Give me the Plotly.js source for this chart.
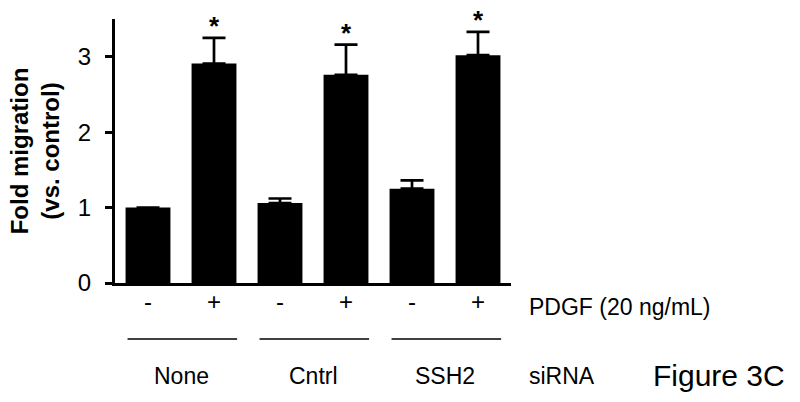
<!DOCTYPE html>
<html>
<head>
<meta charset="utf-8">
<script src="https://cdn.plot.ly/plotly-3.0.1.min.js"></script>
<style>html,body{margin:0;padding:0;background:#fff;}#chart{width:800px;height:402px;}</style>
</head>
<body>
<div id="chart"></div>
<script>
// Data
const pdgfLabels = ["-", "+", "-", "+", "-", "+"];
const foldMigration = [1.00, 2.91, 1.06, 2.76, 1.25, 3.02];
const errorUp = [0.00, 0.34, 0.06, 0.40, 0.11, 0.31];
const significant = [false, true, false, true, false, true];
const sirnaGroups = ["None", "Cntrl", "SSH2"];
const rowLabels = ["PDGF (20 ng/mL)", "siRNA"];
const figureLabel = "Figure 3C";

const FONT = "Liberation Sans, Arial, Helvetica, sans-serif";
const xIdx = pdgfLabels.map((_, i) => i);

const trace = {
  type: "bar",
  x: xIdx,
  y: foldMigration,
  width: 0.68,
  marker: {color: "#000", line: {width: 0}},
  error_y: {
    type: "data", symmetric: false,
    array: errorUp,
    arrayminus: errorUp.map(() => 0),
    visible: true, color: "#000", thickness: 2.7, width: 11.5
  },
  hoverinfo: "y"
};

const annotations = [];
// asterisks
xIdx.forEach(i => {
  if (significant[i]) {
    annotations.push({
      x: i, y: foldMigration[i] + errorUp[i], xref: "x", yref: "y",
      text: "<b>*</b>", showarrow: false, xanchor: "center", yanchor: "middle",
      yshift: 12, font: {family: FONT, size: 26, color: "#000"}
    });
  }
});
// group labels
sirnaGroups.forEach((g, k) => {
  annotations.push({
    x: 2 * k + 0.5, y: -0.352, xref: "x", yref: "paper",
    text: g, showarrow: false, xanchor: "center", yanchor: "middle",
    font: {family: FONT, size: 23, color: "#000"}
  });
});
// row labels
annotations.push({
  x: 1.04, y: -0.09, xref: "paper", yref: "paper", text: rowLabels[0],
  showarrow: false, xanchor: "left", yanchor: "middle",
  font: {family: FONT, size: 23, color: "#000"}
});
annotations.push({
  x: 1.04, y: -0.352, xref: "paper", yref: "paper", text: rowLabels[1],
  showarrow: false, xanchor: "left", yanchor: "middle",
  font: {family: FONT, size: 23, color: "#000"}
});
annotations.push({
  x: 1.353, y: -0.352, xref: "paper", yref: "paper", text: figureLabel,
  showarrow: false, xanchor: "left", yanchor: "middle",
  font: {family: FONT, size: 30, color: "#000"}
});

// group underline shapes
const shapes = sirnaGroups.map((g, k) => ({
  type: "line", xref: "x", yref: "paper",
  x0: 2 * k - 0.31, x1: 2 * k + 1.35, y0: -0.212, y1: -0.212,
  line: {color: "#000", width: 1.5}
}));

const layout = {
  width: 800, height: 402,
  margin: {l: 115, r: 289, t: 19, b: 119, pad: 0},
  paper_bgcolor: "#fff", plot_bgcolor: "#fff",
  showlegend: false,
  bargap: 0.32,
  font: {family: FONT, color: "#000"},
  xaxis: {
    range: [-0.5, 5.5], tickvals: xIdx, ticktext: pdgfLabels,
    showgrid: false, zeroline: false, showline: true, linecolor: "#000", linewidth: 3,
    ticks: "", tickfont: {family: FONT, size: 24, color: "#000"},
    ticklabelstandoff: -5, fixedrange: true
  },
  yaxis: {
    range: [0, 3.5], tickvals: [0, 1, 2, 3], ticktext: ["0", "1", "2", "3"],
    showgrid: false, zeroline: false, showline: true, linecolor: "#000", linewidth: 3,
    ticks: "outside", ticklen: 7, tickwidth: 3, tickcolor: "#000",
    tickfont: {family: FONT, size: 24, color: "#000"},
    ticklabelstandoff: 9,
    title: {text: "<b>Fold migration</b><br><b>(vs. control)</b>", standoff: 12,
            font: {family: FONT, size: 24, color: "#000"}},
    fixedrange: true
  },
  annotations: annotations,
  shapes: shapes
};

Plotly.newPlot("chart", [trace], layout, {displayModeBar: false, staticPlot: true});
</script>
</body>
</html>
